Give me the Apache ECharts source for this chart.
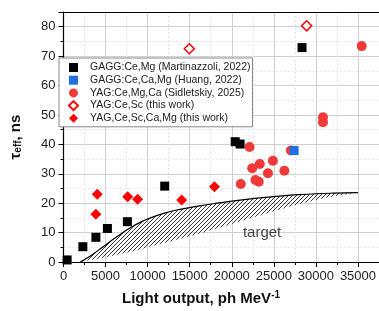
<!DOCTYPE html>
<html>
<head>
<meta charset="utf-8">
<script src="https://cdn.jsdelivr.net/npm/echarts@6/dist/echarts.min.js"></script>
<style>
  html, body { margin: 0; padding: 0; background: #fff; }
  #chart { width: 379px; height: 311px; }
</style>
</head>
<body>
<div id="chart"></div>
<script>
// light output (ph/MeV), tau_eff (ns)
var gaggMg = [[430, 0.7], [2300, 5.2], [3850, 8.4], [5220, 11.4], [7590, 13.7], [12030, 25.8], [20410, 40.9], [20990, 40.1], [28350, 72.9]];
var gaggCaMg = [[27410, 37.9]];
var yagMgCa = [[35440, 73.4], [30840, 49.2], [30840, 47.5], [22120, 39.1], [27020, 37.9], [24890, 34.4], [23330, 33.3], [22430, 31.9],
    [26250, 31.0], [24300, 30.2], [22820, 27.9], [23210, 27.3], [21070, 26.5]];
var yagSc = [[14950, 72.5], [28900, 80.3]];
var yagScCaMg = [[4010, 23.0], [3850, 16.2], [7630, 22.2], [8800, 21.3], [14050, 21.1], [17950, 25.6]];

// target band
var targetX = [2000, 3000, 4000, 5000, 6000, 7000, 8000, 9000, 10000, 12000, 14000, 16000, 18000, 20000, 22000, 24000, 26000, 28000, 30000, 32000, 35000];
var targetUpper = [0, 1.7, 3.7, 5.8, 7.9, 9.9, 11.7, 13.3, 14.6, 16.6, 18.0, 19.0, 19.9, 20.7, 21.4, 22.0, 22.5, 22.9, 23.2, 23.4, 23.6];
var targetLower = [0, 0.5, 1.0, 1.6, 2.2, 2.9, 3.5, 4.2, 5.0, 6.5, 8.0, 9.5, 11.2, 12.9, 14.7, 16.4, 18.1, 19.7, 21.1, 22.3, 23.6];

var names = ['GAGG:Ce,Mg (Martinazzoli, 2022)', 'GAGG:Ce,Ca,Mg (Huang, 2022)', 'YAG:Ce,Mg,Ca (Sidletskiy, 2025)', 'YAG:Ce,Sc (this work)', 'YAG,Ce,Sc,Ca,Mg (this work)'];

// hatch pattern
var hatch = document.createElement('canvas');
hatch.width = 4; hatch.height = 4;
var hc = hatch.getContext('2d');
hc.strokeStyle = '#222';
hc.lineWidth = 0.9;
hc.beginPath();
hc.moveTo(0, 4); hc.lineTo(4, 0);
hc.moveTo(-1, 1); hc.lineTo(1, -1);
hc.moveTo(3, 5); hc.lineTo(5, 3);
hc.stroke();

var upperLine = targetX.map(function (x, i) { return [x, targetUpper[i]]; });

var chart = echarts.init(document.getElementById('chart'));

var font = 'Arial, "Liberation Sans", sans-serif';

chart.setOption({
    animation: false,
    textStyle: { fontFamily: font },
    grid: { left: 58, right: 0, top: 12, bottom: 49 },
    legend: {
        data: names,
        orient: 'vertical',
        left: 59, top: 58,
        padding: [4, 2, 3, 9],
        itemWidth: 9, itemHeight: 9, itemGap: 1.7,
        backgroundColor: '#fff',
        borderColor: '#888', borderWidth: 1,
        textStyle: { fontSize: 10.5, color: '#222', fontFamily: font, lineHeight: 11, padding: [0, 0, 0, 7] }
    },
    xAxis: [{
        type: 'value', min: 0, max: 37500, interval: 5000,
        axisLine: { lineStyle: { color: '#000', width: 1.2 } },
        axisTick: { inside: false, length: 5, lineStyle: { color: '#000' } },
        minorTick: { show: true, splitNumber: 2, length: 3, lineStyle: { color: '#000' } },
        splitLine: { lineStyle: { color: '#d0d0d0', width: 1 } },
        minorSplitLine: { show: true, lineStyle: { color: '#e4e4e4', type: [2, 2] } },
        axisLabel: { fontSize: 13, color: '#222', margin: 8, showMaxLabel: false, formatter: function (v) { return String(v); } }
    }, {
        type: 'value', position: 'top', min: 0, max: 37500,
        axisLine: { show: true, lineStyle: { color: '#000', width: 1.2 } },
        axisTick: { show: false }, axisLabel: { show: false }, splitLine: { show: false }
    }],
    yAxis: {
        type: 'value', min: 0, max: 85, interval: 10,
        name: '{b|τ}{s|eff}{b|, ns}',
        nameLocation: 'middle', nameGap: 40, nameRotate: 90,
        nameTextStyle: {
            rich: {
                b: { fontSize: 15, fontWeight: 'bold', color: '#111', fontFamily: font },
                s: { fontSize: 10, fontWeight: 'bold', color: '#111', fontFamily: font, verticalAlign: 'bottom', padding: [6, 0, 0, 0] }
            }
        },
        axisLine: { show: true, lineStyle: { color: '#000', width: 1.2 } },
        axisTick: { show: true, inside: false, length: 5, lineStyle: { color: '#000' } },
        minorTick: { show: true, splitNumber: 2, length: 3, lineStyle: { color: '#000' } },
        splitLine: { lineStyle: { color: '#d0d0d0', width: 1 } },
        minorSplitLine: { show: true, lineStyle: { color: '#e4e4e4', type: [2, 2] } },
        axisLabel: { fontSize: 13, color: '#222', margin: 8, showMaxLabel: false }
    },
    graphic: [{
        type: 'text', left: 122, top: 290,
        style: {
            text: '{b|Light output, ph MeV}{s|-1}',
            rich: {
                b: { fontSize: 15, fontWeight: 'bold', fill: '#111', fontFamily: font },
                s: { fontSize: 10, fontWeight: 'bold', fill: '#111', fontFamily: font, verticalAlign: 'top', padding: [0, 0, 8, 0] }
            }
        }
    }],
    series: [{
        type: 'custom',
        silent: true,
        data: [[targetX[0], 0]],
        z: 1,
        renderItem: function (params, api) {
            var pts = [];
            for (var i = 0; i < targetX.length; i++) pts.push(api.coord([targetX[i], targetUpper[i]]));
            for (var j = targetX.length - 1; j >= 0; j--) pts.push(api.coord([targetX[j], targetLower[j]]));
            return { type: 'polygon', shape: { points: pts }, style: { fill: { image: hatch, repeat: 'repeat' }, stroke: null } };
        }
    }, {
        type: 'line', data: upperLine, smooth: true, symbol: 'none', silent: true, z: 2,
        lineStyle: { color: '#000', width: 1.2 }
    }, {
        type: 'scatter', data: [[23600, 9.8]], symbolSize: 0, silent: true,
        label: { show: true, formatter: 'target', position: 'inside', fontSize: 15, color: '#111', fontFamily: font }
    }, {
        name: names[0], type: 'scatter', data: gaggMg, symbol: 'rect', symbolSize: 9, z: 5,
        itemStyle: { color: '#000', opacity: 1 }
    }, {
        name: names[1], type: 'scatter', data: gaggCaMg, symbol: 'rect', symbolSize: 9, z: 5,
        itemStyle: { color: '#1f6fe0', opacity: 1 }
    }, {
        name: names[2], type: 'scatter', data: yagMgCa, symbol: 'circle', symbolSize: 10, z: 4,
        itemStyle: { color: '#f03a3a', opacity: 1 }
    }, {
        name: names[3], type: 'scatter', data: yagSc, symbol: 'diamond', symbolSize: 10, z: 5,
        itemStyle: { color: '#fff', borderColor: '#ff0000', borderWidth: 1.5, opacity: 1 }
    }, {
        name: names[4], type: 'scatter', data: yagScCaMg, symbol: 'diamond', symbolSize: 11, z: 5,
        itemStyle: { color: '#ff0000', opacity: 1 }
    }]
});
</script>
</body>
</html>
